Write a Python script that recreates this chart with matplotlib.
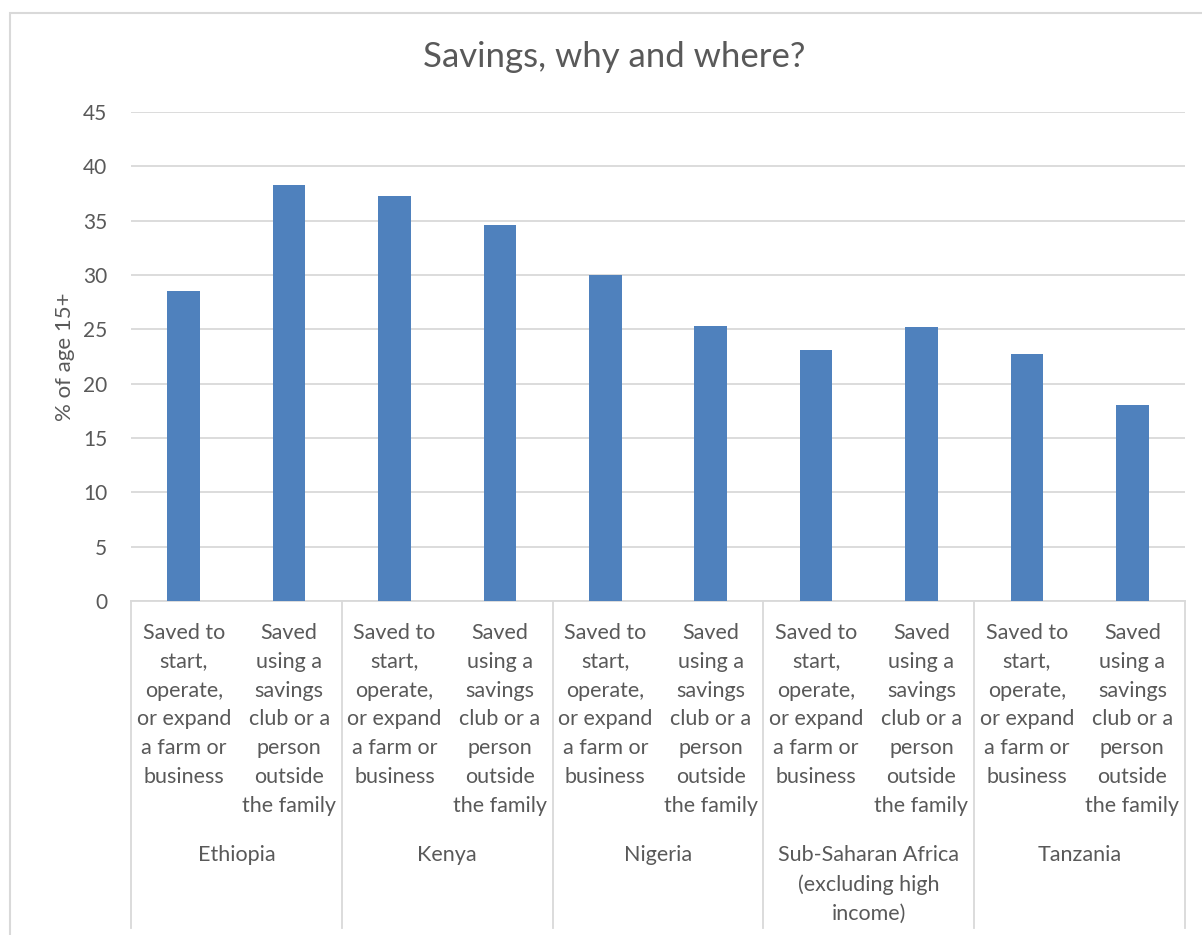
import matplotlib
matplotlib.use("Agg")
import matplotlib.pyplot as plt
import matplotlib.transforms as mtransforms
from matplotlib.patches import Rectangle
from matplotlib.lines import Line2D

plt.rcParams['font.family'] = ['Lato', 'DejaVu Sans']

# data
countries = ["Ethiopia", "Kenya", "Nigeria", "Sub-Saharan Africa\n(excluding high\nincome)", "Tanzania"]
measures = ["Saved to\nstart,\noperate,\nor expand\na farm or\nbusiness",
            "Saved\nusing a\nsavings\nclub or a\nperson\noutside\nthe family"]
values = [28.5, 38.3, 37.3, 34.6, 30.0, 25.3, 23.1, 25.2, 22.7, 18.0]

bar_color = "#4F81BD"
text_color = "#595959"
line_color = "#D9D9D9"

W, H = 1202, 935
fig = plt.figure(figsize=(W / 100, H / 100), dpi=100)
ax = fig.add_axes([131 / W, 1 - 601 / H, (1185 - 131) / W, (601 - 112) / H])

x = list(range(len(values)))
ax.bar(x, values, width=0.31, color=bar_color, zorder=3)

ax.set_xlim(-0.5, len(values) - 0.5)
ax.set_ylim(0, 45)
ax.set_yticks(range(0, 50, 5))
ax.set_xticks([])
ax.grid(axis='y', color=line_color, lw=1.3, zorder=0)
for s in ['top', 'right', 'left']:
    ax.spines[s].set_visible(False)
ax.spines['bottom'].set_color(line_color)
ax.spines['bottom'].set_linewidth(1.3)
ax.tick_params(axis='y', length=0, pad=17, labelsize=15, labelcolor=text_color)

ax.set_ylabel("% of age 15+", fontsize=16, color=text_color, labelpad=6)

fig.text(614 / W, 1 - 57 / H, "Savings, why and where?", ha='center', va='center',
         fontsize=25, color=text_color)

# multi-level category labels
trans = mtransforms.blended_transform_factory(ax.transData, fig.transFigure)
for i, v in enumerate(values):
    ax.text(i, 1 - 623 / H, measures[i % 2], transform=trans, ha='center', va='top',
            fontsize=15.5, color=text_color, linespacing=1.55)
for j, c in enumerate(countries):
    ax.text(2 * j + 0.5, 1 - 845 / H, c, transform=trans, ha='center', va='top',
            fontsize=15.5, color=text_color, linespacing=1.55)
for k in range(len(countries) + 1):
    fig.add_artist(Line2D([2 * k - 0.5, 2 * k - 0.5], [1 - 601 / H, 1 - 928 / H],
                          transform=trans, color=line_color, lw=1.3))

# chart border
fig.add_artist(Rectangle((10 / W, -0.1), 1.2, 1 - 13 / H + 0.1, transform=fig.transFigure,
                         fill=False, edgecolor=line_color, lw=1.5))

fig.savefig("out.png", dpi=100)
